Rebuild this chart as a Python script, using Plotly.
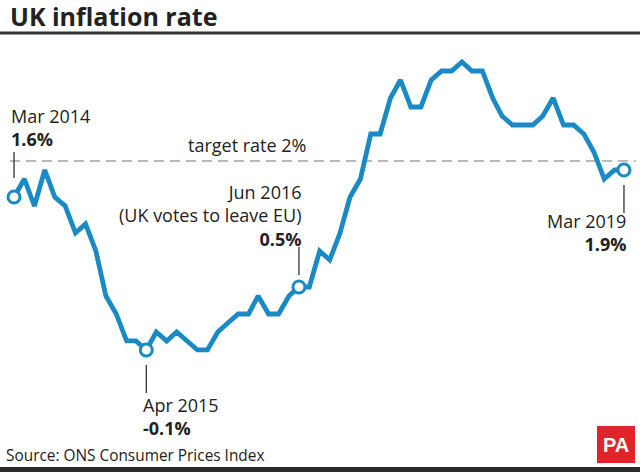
import pandas as pd
import plotly.graph_objects as go

# ---- data ----
months = pd.date_range("2014-03-01", "2019-03-01", freq="MS")
cpi = [1.6, 1.8, 1.5, 1.9, 1.6, 1.5, 1.2, 1.3, 1.0, 0.5,
       0.3, 0.0, 0.0, -0.1, 0.1, 0.0, 0.1, 0.0, -0.1, -0.1, 0.1, 0.2,
       0.3, 0.3, 0.5, 0.3, 0.3, 0.5, 0.6, 0.6, 1.0, 0.9, 1.2, 1.6,
       1.8, 2.3, 2.3, 2.7, 2.9, 2.6, 2.6, 2.9, 3.0, 3.0, 3.1, 3.0,
       3.0, 2.7, 2.5, 2.4, 2.4, 2.4, 2.5, 2.7, 2.4, 2.4, 2.3, 2.1,
       1.8, 1.9, 1.9]
highlight_dates = ["2014-03-01", "2015-04-01", "2016-07-01", "2019-03-01"]
target_rate = 2.0

W, H = 640, 472
BLUE = "#1a8ac4"
TXT = "#222222"
FONT = "Open Sans"

def px(x):
    return x / W

def py(y):
    return 1 - y / H

s = pd.Series(cpi, index=months)
hl_x = pd.to_datetime(highlight_dates)
hl_y = [s[d] for d in hl_x]

fig = go.Figure()
fig.add_trace(go.Scatter(x=months, y=cpi, mode="lines",
                         line=dict(color=BLUE, width=4.8),
                         hoverinfo="skip"))
fig.add_trace(go.Scatter(x=hl_x, y=hl_y, mode="markers",
                         marker=dict(symbol="circle", size=12, color="white",
                                     line=dict(color=BLUE, width=3)),
                         hoverinfo="skip"))

shapes = []
# target line
shapes.append(dict(type="line", xref="paper", yref="y", x0=px(10), x1=px(636),
                   y0=target_rate, y1=target_rate,
                   line=dict(color="#bbbbbb", width=2, dash="10px,6px"), layer="below"))
# title rule
shapes.append(dict(type="line", xref="paper", yref="paper", x0=0, x1=1,
                   y0=py(33), y1=py(33), line=dict(color="#333333", width=3)))
# bottom bar
shapes.append(dict(type="rect", xref="paper", yref="paper", x0=0, x1=1,
                   y0=0, y1=py(467), line=dict(width=0), fillcolor="#2a2a2a"))
# PA logo
shapes.append(dict(type="rect", xref="paper", yref="paper", x0=px(597), x1=px(635),
                   y0=py(463), y1=py(426), line=dict(width=0), fillcolor="#e0242a"))
# connector lines
conn = [(hl_x[0], 152, 178), (hl_x[1], 365, 393), (hl_x[2], 247, 275), (hl_x[3], 185, 213)]
for d, a, b in conn:
    shapes.append(dict(type="line", xref="x", yref="paper", x0=d, x1=d,
                       y0=py(a), y1=py(b), line=dict(color="#333333", width=1.3)))

ann = []
def text(t, x, y, anchor="left", size=18, color=TXT, family=FONT):
    ann.append(dict(text=t, xref="paper", yref="paper", x=px(x), y=py(y),
                    xanchor=anchor, yanchor="middle", align=anchor if anchor != "center" else "center",
                    showarrow=False,
                    font=dict(family=family, size=size, color=color)))

text("<b>UK inflation rate</b>", 8, 16, size=25)
text("Mar 2014<br><b>1.6%</b>", 9, 128)
text("target rate 2%", 308, 145, anchor="right")
text("Jun 2016<br>(UK votes to leave EU)<br><b>0.5%</b>", 304, 215, anchor="right")
text("Apr 2015<br><b>-0.1%</b>", 141, 416)
text("Mar 2019<br><b>1.9%</b>", 628, 232, anchor="right")
text("Source: ONS Consumer Prices Index", 4, 455, size=15.4)
text("<b>PA</b>", 616, 445, anchor="center", size=20, color="white",
     family="Liberation Sans Narrow, Arial Narrow, sans-serif")

fig.update_layout(
    width=W, height=H,
    margin=dict(l=0, r=0, t=0, b=0),
    paper_bgcolor="white", plot_bgcolor="white",
    showlegend=False,
    xaxis=dict(range=["2014-01-18", "2019-04-18"], visible=False),
    yaxis=dict(range=[-1.456, 3.789], visible=False),
    shapes=shapes, annotations=ann,
)
fig.write_html("out.html", config={"displayModeBar": False},
               post_script="document.body.style.margin='0';document.body.style.overflow='hidden';")
